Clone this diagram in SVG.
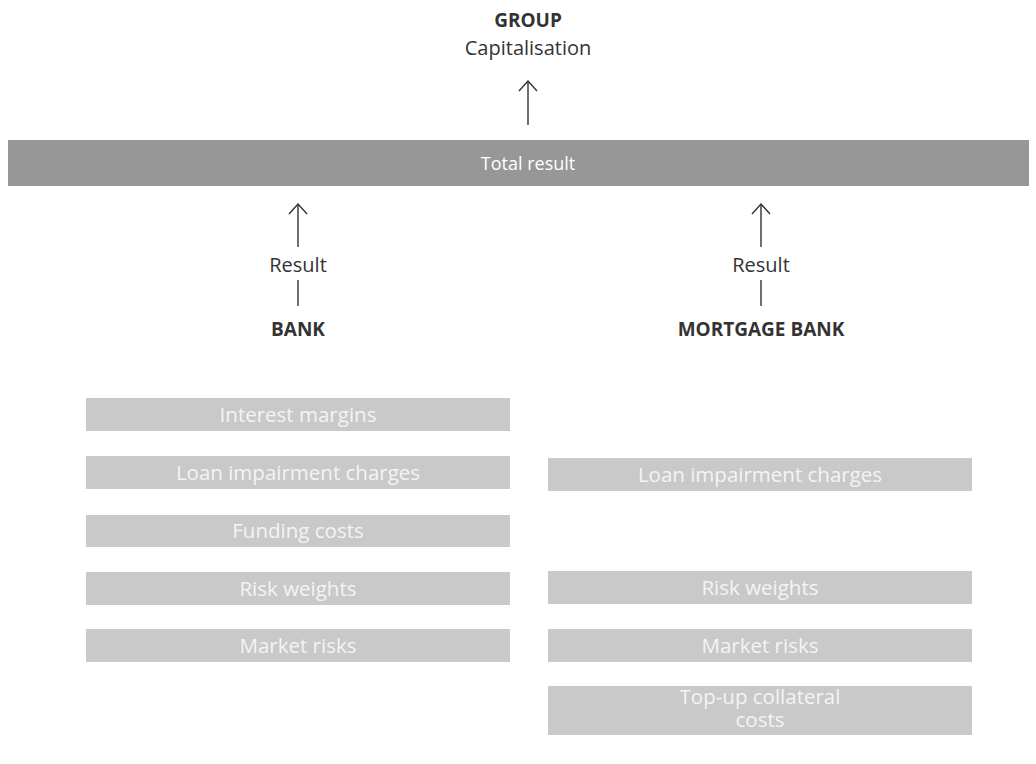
<svg xmlns="http://www.w3.org/2000/svg" width="1036" height="764" viewBox="0 0 1036 764">
<style>
.t{font-family:"Open Sans","Noto Sans","Liberation Sans",sans-serif;fill:#333333;text-anchor:middle}
.b{font-weight:bold;font-size:19px}
.r{font-size:20px}
.box{fill:#c9c9c9}
.bt{font-family:"Open Sans","Noto Sans","Liberation Sans",sans-serif;fill:#f4f4f4;font-size:20.5px;text-anchor:middle}
.ln{stroke:#333333;stroke-width:1.4;fill:none}
</style>
<defs>
<marker id="ah" viewBox="0 0 12 20" refX="11" refY="10" markerWidth="12" markerHeight="20" markerUnits="userSpaceOnUse" orient="auto">
<path d="M1,1 L11,10 L1,19" fill="none" stroke="#333333" stroke-width="1.4"/>
</marker>
</defs>
<rect width="1036" height="764" fill="#ffffff"/>
<g id="group">
<text class="t b" x="528" y="27">GROUP</text>
<text class="t r" x="528" y="55">Capitalisation</text>
</g>
<g id="total">
<rect x="8" y="140" width="1021" height="46" fill="#979797"/>
<text x="528" y="170" font-family="Open Sans, Noto Sans, sans-serif" font-size="18" fill="#ffffff" text-anchor="middle">Total result</text>
</g>
<g id="connectors">
<line class="ln" x1="528" y1="125" x2="528" y2="81" marker-end="url(#ah)"/>
<line class="ln" x1="298" y1="247" x2="298" y2="204" marker-end="url(#ah)"/>
<line class="ln" x1="298" y1="306" x2="298" y2="280"/>
<line class="ln" x1="761" y1="247" x2="761" y2="204" marker-end="url(#ah)"/>
<line class="ln" x1="761" y1="306" x2="761" y2="280"/>
</g>
<g id="result-left"><text class="t r" x="298" y="272">Result</text></g>
<g id="result-right"><text class="t r" x="761" y="272">Result</text></g>
<g id="bank"><text class="t b" x="298" y="336">BANK</text></g>
<g id="mortgage-bank"><text class="t b" x="761" y="336" font-size="18">MORTGAGE BANK</text></g>
<g id="b-interest"><rect class="box" x="86" y="398" width="424" height="33"/><text class="bt" x="298" y="421.7">Interest margins</text></g>
<g id="b-loan"><rect class="box" x="86" y="456" width="424" height="33"/><text class="bt" x="298" y="479.7">Loan impairment charges</text></g>
<g id="b-funding"><rect class="box" x="86" y="515" width="424" height="32"/><text class="bt" x="298" y="538.2">Funding costs</text></g>
<g id="b-risk"><rect class="box" x="86" y="572" width="424" height="33"/><text class="bt" x="298" y="595.7">Risk weights</text></g>
<g id="b-market"><rect class="box" x="86" y="629" width="424" height="33"/><text class="bt" x="298" y="652.7">Market risks</text></g>
<g id="m-loan"><rect class="box" x="548" y="458" width="424" height="33"/><text class="bt" x="760" y="481.7">Loan impairment charges</text></g>
<g id="m-risk"><rect class="box" x="548" y="571" width="424" height="33"/><text class="bt" x="760" y="594.7">Risk weights</text></g>
<g id="m-market"><rect class="box" x="548" y="629" width="424" height="33"/><text class="bt" x="760" y="652.7">Market risks</text></g>
<g id="m-topup"><rect class="box" x="548" y="686" width="424" height="49"/><text class="bt" x="760" y="704">Top-up collateral</text><text class="bt" x="760" y="727">costs</text></g>
</svg>
